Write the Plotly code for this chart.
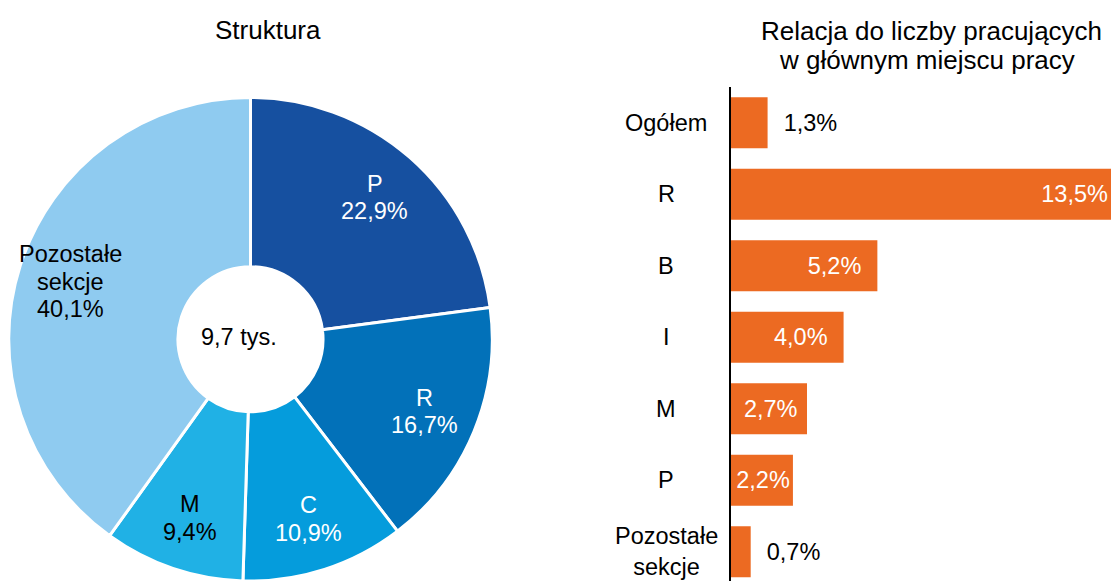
import math
import plotly.graph_objects as go

# ---- data ----
pie_labels = ["P", "R", "C", "M", "Pozostałe<br>sekcje"]
pie_values = [22.9, 16.7, 10.9, 9.4, 40.1]
pie_colors = ["#1650A0", "#0271B9", "#059CDC", "#20B1E5", "#8FCBF0"]
pie_text_colors = ["white", "white", "white", "black", "black"]
total_label = "9,7 tys."

bar_categories = ["Ogółem", "R", "B", "I", "M", "P", "Pozostałe<br>sekcje"]
bar_values = [1.3, 13.5, 5.2, 4.0, 2.7, 2.2, 0.7]

title_left = "Struktura"
title_right_1 = "Relacja do liczby pracujących"
title_right_2 = "w głównym miejscu pracy"

W, H = 1111, 581
FONT = "Liberation Sans, Arial, sans-serif"
ORANGE = "#EC6A22"
NB = "\u00a0"
LABEL_R = 0.78      # radial position of slice labels (fraction of radius)
LINE_GAP = 27.5     # px between label lines inside the pie

pie_top = 97.5
pie_size = H - pie_top
pie_cx = 250.5
pie_dom_x = [(pie_cx - pie_size / 2) / W, (pie_cx + pie_size / 2) / W]
pie_dom_y = [0, 1 - pie_top / H]

fig = go.Figure()

fig.add_trace(go.Pie(
    labels=pie_labels,
    values=pie_values,
    sort=False,
    direction="clockwise",
    rotation=0,
    hole=0.3,
    marker=dict(colors=pie_colors, line=dict(color="white", width=3)),
    textinfo="none",
    domain=dict(x=pie_dom_x, y=pie_dom_y),
    showlegend=False,
    hoverinfo="skip",
))

positions = ["outside", "inside", "inside", "inside", "inside", "inside", "outside"]
templates = [
    NB * 2 + "%{x:.1f}%",
    "%{x:.1f}%",
    "%{x:.1f}%" + NB * 2,
    "%{x:.1f}%" + NB * 2,
    "%{x:.1f}%" + NB,
    "%{x:.1f}%",
    NB * 2 + "%{x:.1f}%",
]
fig.add_trace(go.Bar(
    x=bar_values,
    y=bar_categories,
    orientation="h",
    marker=dict(color=ORANGE, line=dict(width=0)),
    texttemplate=templates,
    textposition=positions,
    insidetextanchor="end",
    insidetextfont=dict(color="white", size=23.5, family=FONT),
    outsidetextfont=dict(color="black", size=23.5, family=FONT),
    cliponaxis=False,
    showlegend=False,
    hoverinfo="skip",
    xaxis="x", yaxis="y",
))

annotations = [
    dict(text=title_left, x=268 / W, y=1 - 30 / H, xref="paper", yref="paper",
         xanchor="center", yanchor="middle", showarrow=False,
         font=dict(size=26, color="black", family=FONT)),
    dict(text=title_right_1, x=931 / W, y=1 - 31 / H, xref="paper", yref="paper",
         xanchor="center", yanchor="middle", showarrow=False,
         font=dict(size=26, color="black", family=FONT)),
    dict(text=title_right_2, x=927 / W, y=1 - 60 / H, xref="paper", yref="paper",
         xanchor="center", yanchor="middle", showarrow=False,
         font=dict(size=26, color="black", family=FONT)),
    dict(text=total_label, x=239 / W, y=1 - 337 / H, xref="paper", yref="paper",
         xanchor="center", yanchor="middle", showarrow=False,
         font=dict(size=23.5, color="black", family=FONT)),
]

# slice labels, placed on a hidden unit axis that covers the pie
total = sum(pie_values)
cum = 0.0
for lab, val, col in zip(pie_labels, pie_values, pie_text_colors):
    theta = 2 * math.pi * (cum + val / 2) / total
    cum += val
    lines = lab.split("<br>") + [f"{val:.1f}%".replace(".", ",")]
    n = len(lines)
    for k, line in enumerate(lines):
        annotations.append(dict(
            text=line,
            x=LABEL_R * math.sin(theta), y=LABEL_R * math.cos(theta),
            xref="x2", yref="y2", xanchor="center", yanchor="middle",
            yshift=((n - 1) / 2 - k) * LINE_GAP,
            showarrow=False, align="center",
            font=dict(size=23.5, color=col, family=FONT)))

for cat in bar_categories:
    annotations.append(dict(
        text=cat, x=666 / W, y=cat, xref="paper", yref="y",
        xanchor="center", yanchor="middle", showarrow=False, align="center",
        font=dict(size=23.5, color="black", family=FONT)))

fig.update_layout(
    width=W, height=H,
    margin=dict(l=0, r=0, t=0, b=0),
    paper_bgcolor="white", plot_bgcolor="rgba(0,0,0,0)",
    separators=", ",
    bargap=0.287,
    font=dict(family=FONT, size=23.5, color="black"),
    xaxis=dict(domain=[731 / W, 1], range=[0, 13.5], visible=False, fixedrange=True),
    yaxis=dict(domain=[0, 1 - 87 / H], type="category",
               categoryorder="array", categoryarray=bar_categories,
               range=[6.41, -0.5], showticklabels=False, ticks="",
               showline=True, linecolor="black", linewidth=2,
               showgrid=False, zeroline=False, fixedrange=True),
    xaxis2=dict(domain=pie_dom_x, range=[-1, 1], visible=False, anchor="y2",
                fixedrange=True),
    yaxis2=dict(domain=pie_dom_y, range=[-1, 1], visible=False, anchor="x2",
                fixedrange=True),
    annotations=annotations,
)

fig.write_html(
    "out.html",
    config={"displayModeBar": False},
    post_script="document.body.style.margin='0';document.body.style.overflow='hidden';",
)
